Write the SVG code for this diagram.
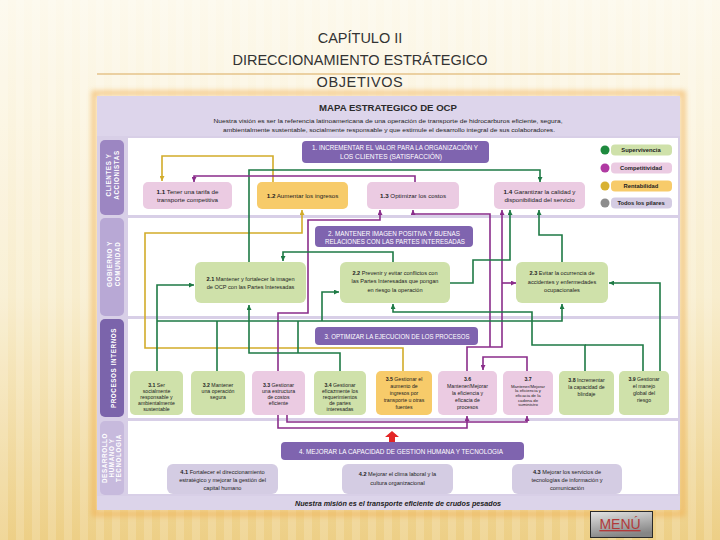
<svg xmlns="http://www.w3.org/2000/svg" width="720" height="540" viewBox="0 0 720 540">
<defs>
<linearGradient id="bg" x1="0" y1="0" x2="0" y2="1">
<stop offset="0" stop-color="#FDF9EC"/>
<stop offset="0.55" stop-color="#F8EDCD"/>
<stop offset="1" stop-color="#EDCF86"/>
</linearGradient>
<pattern id="stripes" width="16" height="540" patternUnits="userSpaceOnUse">
<rect width="8" height="540" fill="#FFFFFF" opacity="0.16"/>
</pattern>
<linearGradient id="btn" x1="0" y1="0" x2="0.3" y2="1">
<stop offset="0" stop-color="#E4E4E4"/>
<stop offset="1" stop-color="#858585"/>
</linearGradient>
<filter id="glow" x="-5%" y="-5%" width="110%" height="110%"><feGaussianBlur stdDeviation="2.5"/></filter>
<marker id="ag" viewBox="0 0 10 10" refX="10" refY="5" markerWidth="5" markerHeight="5" markerUnits="userSpaceOnUse" orient="auto"><path d="M0,0 L10,5 L0,10 z" fill="#1E7A45"/></marker>
<marker id="ap" viewBox="0 0 10 10" refX="10" refY="5" markerWidth="5" markerHeight="5" markerUnits="userSpaceOnUse" orient="auto"><path d="M0,0 L10,5 L0,10 z" fill="#8A2D8B"/></marker>
<marker id="ay" viewBox="0 0 10 10" refX="10" refY="5" markerWidth="5" markerHeight="5" markerUnits="userSpaceOnUse" orient="auto"><path d="M0,0 L10,5 L0,10 z" fill="#D2AC2A"/></marker>
<style>
.f{font-family:"Liberation Sans",Arial,sans-serif}
.ttl{font-family:"Liberation Sans",Arial,sans-serif;font-size:14.5px;fill:#333;text-anchor:middle}
.hd{font-family:"Liberation Sans",Arial,sans-serif;font-size:6.3px;fill:#FFFFFF;text-anchor:middle}
.lab{font-family:"Liberation Sans",Arial,sans-serif;font-size:6.3px;font-weight:bold;fill:#FFFFFF;text-anchor:middle;letter-spacing:0.6px}
.b1{font-family:"Liberation Sans",Arial,sans-serif;font-size:6.2px;fill:#222;text-anchor:middle}
.b2{font-family:"Liberation Sans",Arial,sans-serif;font-size:5.6px;fill:#222;text-anchor:middle}
.b3{font-family:"Liberation Sans",Arial,sans-serif;font-size:5.2px;fill:#222;text-anchor:middle}
.b3s{font-family:"Liberation Sans",Arial,sans-serif;font-size:4.3px;fill:#222;text-anchor:middle}
.lg{font-family:"Liberation Sans",Arial,sans-serif;font-size:5.8px;font-weight:bold;fill:#222;text-anchor:middle}
.pk{fill:#EBCBE2}
.yl{fill:#F7CB6A}
.gr{fill:#CFE1AA}
.lv{fill:#D4CCE3}
.hb{fill:#7F64AF}
.g{fill:none;stroke:#1E7A45;stroke-width:1.6}
.p{fill:none;stroke:#8A2D8B;stroke-width:1.6}
.y{fill:none;stroke:#D2AC2A;stroke-width:1.6}
b{font-weight:bold}
</style>
</defs>

<rect width="720" height="540" fill="url(#bg)"/>
<rect width="720" height="540" fill="url(#stripes)"/>

<g id="title">
<line x1="97" y1="74" x2="680" y2="74" stroke="#D9A95C" stroke-width="1.2"/>
<text class="ttl" x="360" y="43">CAPÍTULO II</text>
<text class="ttl" x="360" y="65">DIRECCIONAMIENTO ESTRÁTEGICO</text>
<text class="ttl" x="360" y="87" letter-spacing="0.6">OBJETIVOS</text>
</g>

<g id="panel">
<rect x="94" y="93" width="589" height="421" fill="none" stroke="#F0AE50" stroke-width="5" opacity="0.6" filter="url(#glow)"/>
<rect x="97" y="96" width="583" height="414" fill="#D8CFE7"/>
<rect x="97" y="96" width="583" height="40" fill="#DDD5EB"/>
<text class="f" x="388" y="111" font-size="9.6" font-weight="bold" fill="#2B2B2B" text-anchor="middle">MAPA ESTRATEGICO DE OCP</text>
<text class="f" x="388" y="122.5" font-size="5.8" fill="#222" text-anchor="middle" textLength="349" lengthAdjust="spacingAndGlyphs">Nuestra visión es ser la referencia latinoamericana de una operación de transporte de hidrocarburos eficiente, segura,</text>
<text class="f" x="389" y="131.5" font-size="5.8" fill="#222" text-anchor="middle" textLength="332" lengthAdjust="spacingAndGlyphs">ambientalmente sustentable, socialmente responsable y que estimule el desarrollo integral de sus colaboradores.</text>
<rect x="128" y="138" width="550" height="77" fill="#FFFFFF"/>
<rect x="128" y="218" width="550" height="98" fill="#FFFFFF"/>
<rect x="128" y="319" width="550" height="99" fill="#FFFFFF"/>
<rect x="128" y="421" width="550" height="73" fill="#FFFFFF"/>
<rect x="97" y="496" width="583" height="14" fill="#DCD4EA"/>
<text class="f" x="398" y="506" font-size="7.2" font-weight="bold" font-style="italic" fill="#222" text-anchor="middle">Nuestra misión es el transporte eficiente de crudos pesados</text>
</g>

<g id="lanes">
<rect x="100" y="140" width="24" height="75" rx="5" fill="#9C86C2"/>
<text class="lab" transform="translate(109,175) rotate(-90)"><tspan x="0" y="2.3">CLIENTES Y</tspan><tspan x="0" y="10">ACCIONISTAS</tspan></text>
<rect x="100" y="218" width="24" height="98" rx="5" fill="#B8A8D5"/>
<text class="lab" transform="translate(110,264) rotate(-90)"><tspan x="0" y="2.3">GOBIERNO Y</tspan><tspan x="0" y="10">COMUNIDAD</tspan></text>
<rect x="100" y="319" width="24" height="98" rx="5" fill="#7B64AB"/>
<text class="lab" transform="translate(114,368) rotate(-90)"><tspan x="0" y="2.3">PROCESOS INTERNOS</tspan></text>
<rect x="100" y="421" width="24" height="74" rx="5" fill="#C7BADD"/>
<text class="lab" transform="translate(105,458) rotate(-90)"><tspan x="0" y="2.3">DESARROLLO</tspan><tspan x="0" y="9.3">HUMANO Y</tspan><tspan x="0" y="16.3">TECNOLOGIA</tspan></text>
</g>

<g id="connectors">
<path class="y" d="M273,182 V156 H162 V181" marker-end="url(#ay)"/>
<path class="y" d="M403,371 V348 H145 V233 H302 V210" marker-end="url(#ay)"/>
<path class="g" d="M249,262 V170 H540 V182" marker-end="url(#ag)"/>
<path class="p" d="M415,182 V176 H194 V182" marker-end="url(#ap)"/>
<path class="p" d="M278,371 V313 H308 V220 H380 V210" marker-end="url(#ap)"/>
<path class="p" d="M467,371 V347 H502 V210" marker-end="url(#ap)"/>
<path class="p" d="M490,347 V214 H413 V210" marker-end="url(#ap)"/>
<path class="p" d="M502,283 H516" marker-end="url(#ap)"/>
<path class="p" d="M527,371 V357 H483 V370" marker-end="url(#ap)"/>
<path class="p" d="M278,415 V428 H467 V416" marker-end="url(#ap)"/>
<path class="p" d="M287,415 V422 H527 V416" marker-end="url(#ap)"/>
<path class="g" d="M393,262 V252 H283 V261" marker-end="url(#ag)"/>
<path class="g" d="M450,283 H473 V260 H510 V210" marker-end="url(#ag)"/>
<path class="g" d="M562,262 V235 H539 V210" marker-end="url(#ag)"/>
<path class="g" d="M157,321 H562 V304" marker-end="url(#ag)"/>
<path class="g" d="M157,371 V285 H194" marker-end="url(#ag)"/>
<path class="g" d="M217,371 V321"/>
<path class="g" d="M322,321 V292 H339" marker-end="url(#ag)"/>
<path class="g" d="M298,321 V353"/>
<path class="g" d="M340,371 V353 H249 V305" marker-end="url(#ag)"/>
<path class="g" d="M585,371 V345 H532 V312 H393 V304" marker-end="url(#ag)"/>
<path class="g" d="M643,371 V345 H585"/>
<path class="g" d="M660,371 V283 H609" marker-end="url(#ag)"/>
<path d="M392,431 L399,437 L395,437 L395,442 L389,442 L389,437 L385,437 Z" fill="#E32626"/>
</g>

<g id="h1"><rect class="hb" x="302" y="141" width="187" height="22" rx="4"/>
<text class="hd" x="395" y="150" textLength="166" lengthAdjust="spacingAndGlyphs">1. INCREMENTAR EL VALOR PARA LA ORGANIZACIÓN Y</text>
<text class="hd" x="391" y="158.5" textLength="102" lengthAdjust="spacingAndGlyphs">LOS CLIENTES (SATISFACCIÓN)</text></g>
<g id="h2"><rect class="hb" x="315" y="226" width="158" height="21" rx="4"/>
<text class="hd" x="394" y="235.5" textLength="132" lengthAdjust="spacingAndGlyphs">2. MANTENER IMAGEN POSITIVA Y BUENAS</text>
<text class="hd" x="395" y="244" textLength="140" lengthAdjust="spacingAndGlyphs">RELACIONES CON LAS PARTES INTERESADAS</text></g>
<g id="h3"><rect class="hb" x="315" y="327" width="163" height="18" rx="4"/>
<text class="hd" x="397" y="338.5" textLength="145" lengthAdjust="spacingAndGlyphs">3. OPTIMIZAR LA EJECUCION DE LOS PROCESOS</text></g>
<g id="h4"><rect class="hb" x="281" y="442" width="243" height="18" rx="4"/>
<text class="hd" x="401" y="453.5" textLength="204" lengthAdjust="spacingAndGlyphs">4. MEJORAR LA CAPACIDAD DE GESTION HUMANA Y TECNOLOGIA</text></g>

<g id="n11"><rect class="pk" x="143" y="182" width="89" height="27" rx="5"/>
<text class="b1" x="187.5" y="193.5"><tspan font-weight="bold">1.1</tspan> Tener una tarifa de</text><text class="b1" x="187.5" y="202">transporte competitiva</text></g>
<g id="n12"><rect class="yl" x="257" y="182" width="91" height="27" rx="5"/>
<text class="b1" x="302.5" y="198"><tspan font-weight="bold">1.2</tspan> Aumentar los ingresos</text></g>
<g id="n13"><rect class="pk" x="367" y="182" width="92" height="27" rx="5"/>
<text class="b1" x="413" y="198"><tspan font-weight="bold">1.3</tspan> Optimizar los costos</text></g>
<g id="n14"><rect class="pk" x="494" y="182" width="91" height="27" rx="5"/>
<text class="b1" x="539.5" y="193.5"><tspan font-weight="bold">1.4</tspan> Garantizar la calidad y</text><text class="b1" x="539.5" y="202">disponibilidad del servicio</text></g>

<g id="legend">
<circle cx="605" cy="150" r="4.5" fill="#1E8A3E"/><rect class="gr" x="611" y="144.5" width="61" height="11" rx="4"/><text class="lg" x="641" y="152">Supervivencia</text>
<circle cx="605" cy="168" r="4.5" fill="#B03AA2"/><rect class="pk" x="611" y="162.5" width="61" height="11" rx="4"/><text class="lg" x="641" y="170">Competitividad</text>
<circle cx="605" cy="186" r="4.5" fill="#D8B234"/><rect class="yl" x="611" y="180.5" width="61" height="11" rx="4"/><text class="lg" x="641" y="188">Rentabilidad</text>
<circle cx="605" cy="203" r="4.5" fill="#8C8C8C"/><rect class="lv" x="611" y="197.5" width="61" height="11" rx="4"/><text class="lg" x="641" y="205">Todos los pilares</text>
</g>

<g id="n21"><rect class="gr" x="195" y="262" width="111" height="41" rx="6"/>
<text class="b2" x="250.5" y="281"><tspan font-weight="bold">2.1</tspan> Mantener y fortalecer la imagen</text><text class="b2" x="250.5" y="289">de OCP con las Partes Interesadas</text></g>
<g id="n22"><rect class="gr" x="340" y="262" width="110" height="41" rx="6"/>
<text class="b2" x="395" y="274.5"><tspan font-weight="bold">2.2</tspan> Prevenir y evitar conflictos con</text><text class="b2" x="395" y="283">las Partes Interesadas que pongan</text><text class="b2" x="395" y="291.5">en riesgo la operación</text></g>
<g id="n23"><rect class="gr" x="516" y="262" width="92" height="41" rx="6"/>
<text class="b2" x="562" y="275"><tspan font-weight="bold">2.3</tspan> Evitar la ocurrencia de</text><text class="b2" x="562" y="283.5">accidentes y enfermedades</text><text class="b2" x="562" y="292">ocupacionales</text></g>

<g id="n31"><rect class="gr" x="130" y="371" width="53" height="44" rx="5"/>
<text class="b3" x="156.5" y="387"><tspan font-weight="bold">3.1</tspan> Ser</text><text class="b3" x="156.5" y="393">socialmente</text><text class="b3" x="156.5" y="399">responsable y</text><text class="b3" x="156.5" y="405">ambientalmente</text><text class="b3" x="156.5" y="411">sustentable</text></g>
<g id="n32"><rect class="gr" x="191" y="371" width="54" height="44" rx="5"/>
<text class="b3" x="218" y="387"><tspan font-weight="bold">3.2</tspan> Mantener</text><text class="b3" x="218" y="393">una operación</text><text class="b3" x="218" y="399">segura</text></g>
<g id="n33"><rect class="pk" x="252" y="371" width="53" height="44" rx="5"/>
<text class="b3" x="278.5" y="387"><tspan font-weight="bold">3.3</tspan> Gestionar</text><text class="b3" x="278.5" y="393">una estructura</text><text class="b3" x="278.5" y="399">de costos</text><text class="b3" x="278.5" y="405">eficiente</text></g>
<g id="n34"><rect class="gr" x="314" y="371" width="52" height="44" rx="5"/>
<text class="b3" x="340" y="387"><tspan font-weight="bold">3.4</tspan> Gestionar</text><text class="b3" x="340" y="393">eficazmente los</text><text class="b3" x="340" y="399">requerimientos</text><text class="b3" x="340" y="405">de partes</text><text class="b3" x="340" y="411">interesadas</text></g>
<g id="n35"><rect class="yl" x="376" y="371" width="56" height="44" rx="5"/>
<text class="b3" x="404" y="381"><tspan font-weight="bold">3.5</tspan> Gestionar el</text><text class="b3" x="404" y="388">aumento de</text><text class="b3" x="404" y="395">ingresos por</text><text class="b3" x="404" y="402">transporte u otras</text><text class="b3" x="404" y="409">fuentes</text></g>
<g id="n36"><rect class="pk" x="438" y="371" width="59" height="44" rx="5"/>
<text class="b3" x="467.5" y="381" font-weight="bold">3.6</text><text class="b3" x="467.5" y="388">Mantener/Mejorar</text><text class="b3" x="467.5" y="395">la eficiencia y</text><text class="b3" x="467.5" y="402">eficacia de</text><text class="b3" x="467.5" y="409">procesos</text></g>
<g id="n37"><rect class="pk" x="503" y="371" width="50" height="44" rx="5"/>
<text class="b3" x="528" y="381" font-weight="bold">3.7</text><text class="b3s" x="528" y="387.5">Mantener/Mejorar</text><text class="b3s" x="528" y="392">la eficiencia y</text><text class="b3s" x="528" y="396.5">eficacia de la</text><text class="b3s" x="528" y="401.5">cadena de</text><text class="b3s" x="528" y="406">suministro</text></g>
<g id="n38"><rect class="gr" x="559" y="371" width="55" height="44" rx="5"/>
<text class="b3" x="586.5" y="382"><tspan font-weight="bold">3.8</tspan> Incrementar</text><text class="b3" x="586.5" y="389">la capacidad de</text><text class="b3" x="586.5" y="396">blindaje</text></g>
<g id="n39"><rect class="gr" x="619" y="371" width="50" height="44" rx="5"/>
<text class="b3" x="644" y="381"><tspan font-weight="bold">3.9</tspan> Gestionar</text><text class="b3" x="644" y="388">el manejo</text><text class="b3" x="644" y="395">global del</text><text class="b3" x="644" y="402">riesgo</text></g>

<g id="n41"><rect class="lv" x="167" y="464" width="111" height="30" rx="6"/>
<text class="b2" x="222.5" y="474"><tspan font-weight="bold">4.1</tspan> Fortalecer el direccionamiento</text><text class="b2" x="222.5" y="482">estratégico y mejorar la gestión del</text><text class="b2" x="222.5" y="490">capital humano</text></g>
<g id="n42"><rect class="lv" x="342" y="464" width="111" height="30" rx="6"/>
<text class="b2" x="397.5" y="476"><tspan font-weight="bold">4.2</tspan> Mejorar el clima laboral y la</text><text class="b2" x="397.5" y="485">cultura organizacional</text></g>
<g id="n43"><rect class="lv" x="512" y="464" width="110" height="30" rx="6"/>
<text class="b2" x="567" y="474"><tspan font-weight="bold">4.3</tspan> Mejorar los servicios de</text><text class="b2" x="567" y="482">tecnologías de información y</text><text class="b2" x="567" y="490">comunicación</text></g>

<g id="menu">
<rect x="590.5" y="511.5" width="62" height="26" fill="url(#btn)" stroke="#2A2A2A" stroke-width="1"/>
<text class="f" x="620" y="529" font-size="14" fill="#B23A3A" text-anchor="middle" text-decoration="underline">MENÚ</text>
</g>
</svg>
